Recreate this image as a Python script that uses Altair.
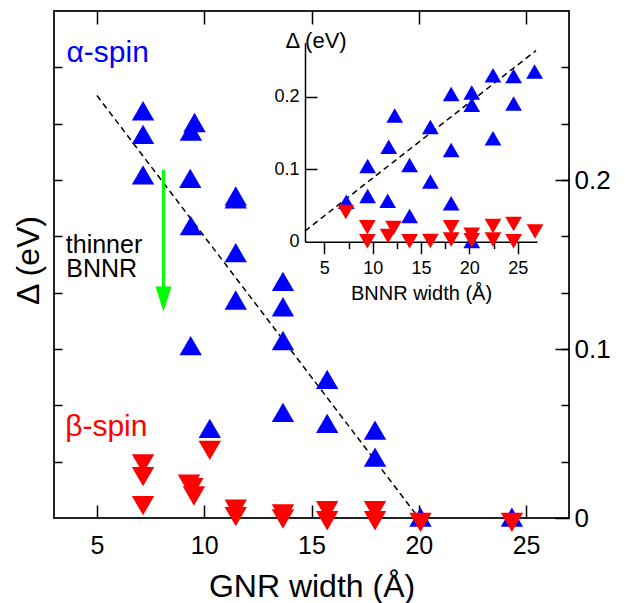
import altair as alt
import pandas as pd

FONT = "Liberation Sans"

# ---------------- main panel: gap vs GNR width ----------------
alpha_x = [7.15, 7.15, 7.15, 9.55, 9.38, 9.35, 9.38, 9.37, 10.26, 11.47, 11.47, 11.47, 11.47,
           13.67, 13.67, 13.67, 13.67, 15.73, 15.73, 17.96, 17.96, 20.08, 24.34]
alpha_y = [0.241, 0.227, 0.203, 0.234, 0.229, 0.201, 0.173, 0.102, 0.053, 0.1905, 0.1888, 0.157, 0.129,
           0.140, 0.125, 0.105, 0.0625, 0.082, 0.056, 0.052, 0.036, 0.0005, 0.0005]

beta_x = [10.26, 7.15, 7.15, 7.15, 9.29, 9.45, 9.52, 11.47, 11.47, 13.67, 13.67,
          15.73, 15.73, 17.96, 17.96, 20.08, 24.34]
beta_y = [0.040, 0.032, 0.0245, 0.0073, 0.020, 0.018, 0.013, 0.0052, 0.0008, 0.0024, -0.0006,
          0.0043, -0.0016, 0.0043, -0.0016, -0.0026, -0.0026]

fit_x = [5.0, 20.0]
fit_y = [0.25, 0.0]

# arrow "thinner BNNR"
arrow_x = [8.1]
arrow_top = [0.206]
arrow_bottom = [0.136]
arrow_head_y = [0.1296]

spin_text = ["α-spin", "β-spin"]
spin_x = [3.58, 3.52]
spin_y = [0.270, 0.0485]

note_text = ["thinner", "BNNR"]
note_x = [3.55, 3.57]
note_y = [0.1566, 0.1424]

main_x_ticks = [5, 10, 15, 20, 25]
main_y_major = [0, 0.1, 0.2]
main_y_minor = [0.03333, 0.06667, 0.1, 0.13333, 0.16667, 0.2, 0.23333, 0.26667]

# ---------------- inset: gap vs BNNR width ----------------
in_alpha_x = [7.27, 9.48, 9.48, 11.55, 11.66, 12.28, 13.82, 13.82, 15.97, 15.97,
              18.12, 18.12, 18.12, 20.25, 20.25, 20.25, 22.45, 22.45, 24.58, 24.58, 26.75]
in_alpha_y = [0.0553, 0.1046, 0.063, 0.0566, 0.131, 0.1744, 0.106, 0.0355, 0.1584, 0.083,
              0.204, 0.1267, 0.053, 0.206, 0.189, 0.001, 0.230, 0.1428, 0.229, 0.191, 0.235]

in_beta_x = [7.22, 9.45, 9.45, 11.6, 12.15, 13.82, 15.97, 18.12, 18.12, 20.25, 20.25,
             22.45, 22.45, 24.58, 24.58, 26.8]
in_beta_y = [0.041, 0.020, 0.0005, 0.008, 0.0188, 0.0005, 0.001, 0.020, 0.003, 0.0095, 0.002,
             0.0217, 0.003, 0.0244, 0.0005, 0.014]

in_fit_x = [3.0, 26.9]
in_fit_y = [0.0148, 0.264]

in_x_major = [5, 10, 15, 20, 25]
in_x_minor = [7.5, 12.5, 17.5, 22.5]
in_y_ticks = [0, 0.1, 0.2]

BLUE = "#0000ff"
RED = "#ff0000"
GREEN = "#00ff00"

# ---------------- scales ----------------
XM = alt.Scale(domain=[3, 27], nice=False, zero=False)
YM = alt.Scale(domain=[0, 0.3], nice=False, zero=False)
XI = alt.Scale(domain=[3, 27], range=[251, 483], nice=False, zero=False)
YI = alt.Scale(domain=[0, 0.275], range=[230.7, 31.6], nice=False, zero=False)

tick_style = dict(tickColor="black", tickWidth=1.5, grid=False, domain=False)

ax_bottom = alt.Axis(orient="bottom", offset=-13, tickSize=13, values=main_x_ticks,
                     labelFontSize=25, labelPadding=15, labelFont=FONT, labelColor="black",
                     labelFlush=False, title="GNR width (Å)", titleFont=FONT, titleFontSize=32,
                     titleFontWeight="normal", titleColor="black", titleY=91.5,
                     titleBaseline="alphabetic", **tick_style)
ax_top = alt.Axis(orient="top", offset=-13, tickSize=13, values=main_x_ticks, labels=False,
                  title=None, **tick_style)
ax_right_major = alt.Axis(orient="right", offset=-14, tickSize=14, values=main_y_major,
                          format="~g", labelFontSize=26, labelPadding=5, labelFont=FONT,
                          labelColor="black", labelFlush=False, title=None, **tick_style)
ax_right_minor = alt.Axis(orient="right", offset=-8, tickSize=8, values=main_y_minor,
                          labels=False, title=None, **tick_style)
ax_left = alt.Axis(orient="left", offset=-8, tickSize=8, values=main_y_minor, labels=False,
                   title="Δ (eV)", titleFont=FONT, titleFontSize=32, titleFontWeight="normal",
                   titleColor="black", titleX=-34, titleY=249, titleAngle=270,
                   titleAlign="center", titleBaseline="middle", **tick_style)

ax_in_x = alt.Axis(orient="bottom", offset=-276.3, tickSize=12, values=in_x_major,
                   domain=True, domainColor="black", domainWidth=1.5, tickColor="black",
                   tickWidth=1.5, grid=False, labelFontSize=18, labelPadding=6, labelFont=FONT,
                   labelColor="black", labelFlush=False, title="BNNR width (Å)", titleFont=FONT,
                   titleFontSize=20, titleFontWeight="normal", titleColor="black", titleY=58,
                   titleBaseline="alphabetic")
ax_in_x_minor = alt.Axis(orient="bottom", offset=-276.3, tickSize=7, values=in_x_minor,
                         labels=False, title=None, **tick_style)
ax_in_y = alt.Axis(orient="left", offset=-251, ticks=False, tickSize=0, values=in_y_ticks,
                   domain=True, domainColor="black", domainWidth=1.5, grid=False, format="~g",
                   labelFontSize=18, labelPadding=6, labelFont=FONT, labelColor="black",
                   labelFlush=False, title="Δ (eV)", titleFont=FONT, titleFontSize=22,
                   titleFontWeight="normal", titleColor="black", titleAngle=0,
                   titleAlign="left", titleBaseline="alphabetic", titleX=-20, titleY=36)
ax_in_y_ticks = alt.Axis(orient="left", offset=-263, tickSize=12, values=[0.1, 0.2],
                         labels=False, title=None, **tick_style)

# ---------------- data frames ----------------
df_alpha = pd.DataFrame({"w": alpha_x, "gap": alpha_y})
df_beta = pd.DataFrame({"w": beta_x, "gap": beta_y})
df_fit = pd.DataFrame({"w": fit_x, "gap": fit_y})
df_arrow = pd.DataFrame({"w": arrow_x, "top": arrow_top, "bottom": arrow_bottom, "head": arrow_head_y})
df_spin = pd.DataFrame({"w": spin_x, "gap": spin_y, "t": spin_text, "c": [BLUE, RED]})
df_note = pd.DataFrame({"w": note_x, "gap": note_y, "t": note_text})

df_in_alpha = pd.DataFrame({"w": in_alpha_x, "gap": in_alpha_y})
df_in_beta = pd.DataFrame({"w": in_beta_x, "gap": in_beta_y})
df_in_fit = pd.DataFrame({"w": in_fit_x, "gap": in_fit_y})

# ---------------- main layers ----------------
m_fit = alt.Chart(df_fit).mark_line(color="black", strokeWidth=1.5, strokeDash=[6, 4]).encode(
    x=alt.X("w:Q", scale=XM, axis=None),
    y=alt.Y("gap:Q", scale=YM, axis=ax_left),
)
m_alpha = alt.Chart(df_alpha).mark_point(shape="triangle-up", filled=True, size=500,
                                         color=BLUE, opacity=1).encode(
    x=alt.X("w:Q", scale=XM, axis=ax_bottom),
    y=alt.Y("gap:Q", scale=YM, axis=ax_right_major),
)
m_beta = alt.Chart(df_beta).mark_point(shape="triangle-down", filled=True, size=500,
                                       color=RED, opacity=1).encode(
    x=alt.X("w:Q", scale=XM, axis=ax_top),
    y=alt.Y("gap:Q", scale=YM, axis=ax_right_minor),
)
m_arrow = alt.Chart(df_arrow).mark_rule(color=GREEN, strokeWidth=3).encode(
    x=alt.X("w:Q", scale=XM, axis=None),
    y=alt.Y("top:Q", scale=YM, axis=None),
    y2="bottom:Q",
)
m_head = alt.Chart(df_arrow).mark_point(shape="M-0.64,-1L0.64,-1L0,1Z", filled=True, size=625,
                                        color=GREEN, opacity=1).encode(
    x=alt.X("w:Q", scale=XM, axis=None),
    y=alt.Y("head:Q", scale=YM, axis=None),
)
m_spin = alt.Chart(df_spin).mark_text(font=FONT, fontSize=30, align="left",
                                      baseline="alphabetic").encode(
    x=alt.X("w:Q", scale=XM, axis=None),
    y=alt.Y("gap:Q", scale=YM, axis=None),
    text="t:N",
    color=alt.Color("c:N", scale=None),
)
m_note = alt.Chart(df_note).mark_text(font=FONT, fontSize=25, align="left",
                                      baseline="alphabetic", color="black").encode(
    x=alt.X("w:Q", scale=XM, axis=None),
    y=alt.Y("gap:Q", scale=YM, axis=None),
    text="t:N",
)

main = alt.layer(m_fit, m_alpha, m_beta, m_arrow, m_head, m_spin, m_note).resolve_axis(
    x="independent", y="independent")

# ---------------- inset layers ----------------
i_fit = alt.Chart(df_in_fit).mark_line(color="black", strokeWidth=1.5, strokeDash=[6, 4]).encode(
    x=alt.X("w:Q", scale=XI, axis=None),
    y=alt.Y("gap:Q", scale=YI, axis=None),
)
i_alpha = alt.Chart(df_in_alpha).mark_point(shape="triangle-up", filled=True, size=280,
                                            color=BLUE, opacity=1).encode(
    x=alt.X("w:Q", scale=XI, axis=ax_in_x),
    y=alt.Y("gap:Q", scale=YI, axis=ax_in_y),
)
i_beta = alt.Chart(df_in_beta).mark_point(shape="triangle-down", filled=True, size=280,
                                          color=RED, opacity=1).encode(
    x=alt.X("w:Q", scale=XI, axis=ax_in_x_minor),
    y=alt.Y("gap:Q", scale=YI, axis=ax_in_y_ticks),
)
inset = alt.layer(i_fit, i_alpha, i_beta).resolve_axis(x="independent", y="independent")

chart = alt.layer(main, inset).resolve_scale(x="independent", y="independent").properties(
    width=515, height=507,
    background="white",
    autosize=alt.AutoSizeParams(type="none"),
    padding={"left": 46, "top": 3, "right": 48, "bottom": 85},
).configure_view(stroke="#222", strokeWidth=2, fill="white")

chart.save("out.html", embed_options={"renderer": "svg", "actions": False})
